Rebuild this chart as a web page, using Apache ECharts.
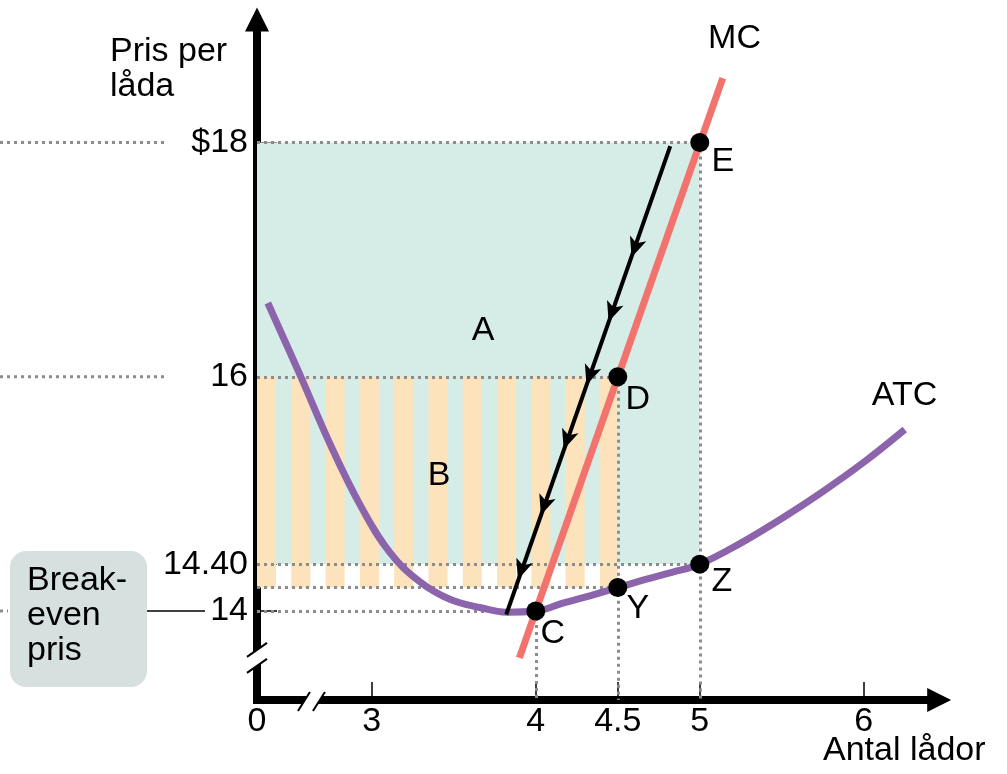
<!DOCTYPE html>
<html>
<head>
<meta charset="utf-8">
<script src="https://cdn.jsdelivr.net/npm/echarts@6/dist/echarts.min.js"></script>
<style>
  html, body { margin: 0; padding: 0; background: #fff; }
  #chart { width: 1007px; height: 774px; }
</style>
</head>
<body>
<div id="chart"></div>
<script>
// ---------- data ----------
const xTickValues = [3, 4, 4.5, 5, 6];
const xTickLabels = ['3', '4', '4.5', '5', '6'];
const xOriginLabel = '0';
const yTickValues = [14, 14.4, 16, 18];
const yTickLabels = ['14', '14.40', '16', '$18'];

// Average total cost curve (ATC)
const atcX = [2.366, 2.561, 2.744, 2.927, 3.11, 3.293, 3.476, 3.659, 3.823, 4.0, 4.17, 4.33, 4.5, 4.67, 4.83, 5.0, 5.25, 5.5, 5.75, 6.0, 6.25];
const atcY = [16.63, 16.02, 15.43, 14.91, 14.50, 14.25, 14.10, 14.03, 13.99, 14.0, 14.07, 14.13, 14.2, 14.27, 14.33, 14.4, 14.58, 14.79, 15.02, 15.27, 15.55];

// Marginal cost curve (MC)
const mcX = [3.9, 5.14];
const mcY = [13.6, 18.55];

// Black path with arrows (price falling along MC)
const pathX = [4.82, 3.82];
const pathY = [17.97, 13.97];
const arrowX = [4.584, 4.444, 4.309, 4.170, 4.031, 3.891];
const arrowY = [17.02, 16.47, 15.93, 15.38, 14.82, 14.27];

// Labelled points
const pointNames = ['C', 'D', 'E', 'Y', 'Z'];
const pointX = [4, 4.5, 5, 4.5, 5];
const pointY = [14, 16, 18, 14.2, 14.4];

// Profit areas: [price, ATC, quantity]
const profitHigh = { price: 18, atc: 14.4, q: 5 };   // area A (green)
const profitLow  = { price: 16, atc: 14.2, q: 4.5 }; // area B (striped)

// Axis ranges (broken axes start at origin label)
const xMin = 2.3, xMax = 6.46, yMin = 13.24, yMax = 19.05;
const xBreakAt = 2.632, yBreakAt = 13.6;

// ---------- style ----------
const FONT = '"Liberation Sans", Arial, Helvetica, sans-serif';
const FS = 34;
const GREEN = '#d6ece6';
const ORANGE = '#fde3bb';
const DOT = '#8c8c8c';
const labelOffsets = { C: [17, 23], D: [20, 23], E: [23, 19], Y: [20, 21], Z: [22, 17] };

const chart = echarts.init(document.getElementById('chart'), null, { renderer: 'canvas' });

function rectRender(params, api) {
  const p0 = api.coord([api.value(0), api.value(1)]);
  const p1 = api.coord([api.value(2), api.value(3)]);
  return { type: 'rect', shape: { x: p0[0], y: p0[1], width: p1[0] - p0[0], height: p1[1] - p0[1] }, style: { fill: GREEN } };
}
function stripeRender(params, api) {
  const p0 = api.coord([api.value(0), api.value(1)]);
  const p1 = api.coord([api.value(2), api.value(3)]);
  const period = 34.3, w = 19;
  const children = [];
  for (let x = p0[0]; x < p1[0]; x += period) {
    children.push({ type: 'rect', shape: { x: x, y: p0[1], width: Math.min(w, p1[0] - x), height: p1[1] - p0[1] }, style: { fill: ORANGE } });
  }
  return { type: 'group', children: children };
}

const pts = pointNames.map((n, i) => [pointX[i], pointY[i]]);
const byName = {};
pointNames.forEach((n, i) => byName[n] = pts[i]);
const dotSegs = [
  [[xMin, byName.E[1]], byName.E],
  [[xMin, byName.D[1]], byName.D],
  [[xMin, byName.Z[1]], byName.Z],
  [[xMin, byName.Y[1]], byName.Y],
  [[xMin, byName.C[1]], byName.C],
  [byName.C, [byName.C[0], yMin]],
  [byName.D, [byName.D[0], yMin]],
  [byName.E, [byName.E[0], yMin]]
];

const option = {
  animation: false,
  textStyle: { fontFamily: FONT },
  grid: { left: 257, right: 67.8, top: 19.6, bottom: 74 },
  xAxis: {
    type: 'value', min: xMin, max: xMax,
    splitLine: { show: false },
    axisLine: { onZero: false, symbol: ['none', 'triangle'], symbolSize: [24, 24], lineStyle: { color: '#000', width: 8, cap: 'square' } },
    axisTick: { show: true, inside: true, length: 18, customValues: xTickValues, lineStyle: { color: '#000', width: 1.5 } },
    axisLabel: {
      customValues: [xMin].concat(xTickValues),
      formatter: function (v) { const i = xTickValues.indexOf(v); return i >= 0 ? xTickLabels[i] : xOriginLabel; },
      fontSize: FS, color: '#000', margin: 5, verticalAlign: 'top', fontFamily: FONT
    }
  },
  yAxis: {
    type: 'value', min: yMin, max: yMax,
    splitLine: { show: false },
    axisLine: { onZero: false, symbol: ['none', 'triangle'], symbolSize: [24, 24], lineStyle: { color: '#000', width: 8, cap: 'square' } },
    axisTick: { show: true, inside: true, length: 20, customValues: yTickValues, lineStyle: { color: '#000', width: 1.5 } },
    axisLabel: {
      customValues: yTickValues,
      formatter: function (v) { const i = yTickValues.indexOf(v); return i >= 0 ? yTickLabels[i] : ''; },
      fontSize: FS, color: '#000', margin: 9, padding: [0, 0, 8, 0], fontFamily: FONT
    }
  },
  series: [
    { type: 'custom', name: 'A', renderItem: rectRender, silent: true, z: 1,
      encode: { x: [0, 2], y: [1, 3] },
      data: [[xMin, profitHigh.price, profitHigh.q, profitHigh.atc]] },
    { type: 'custom', name: 'B', renderItem: stripeRender, silent: true, z: 2,
      encode: { x: [0, 2], y: [1, 3] },
      data: [[xMin, profitLow.price, profitLow.q, profitLow.atc]] },
    { type: 'lines', coordinateSystem: 'cartesian2d', silent: true, z: 3,
      lineStyle: { color: DOT, width: 3, type: [3, 4], opacity: 1 },
      data: dotSegs.map(s => ({ coords: s })) },
    { type: 'line', name: 'ATC', smooth: 0.4, showSymbol: false, silent: true, z: 5,
      lineStyle: { color: '#8b64ab', width: 7, cap: 'butt' },
      data: atcX.map((x, i) => [x, atcY[i]]) },
    { type: 'line', name: 'MC', showSymbol: false, silent: true, z: 6,
      lineStyle: { color: '#f2736d', width: 7, cap: 'butt' },
      data: mcX.map((x, i) => [x, mcY[i]]) },
    { type: 'line', name: 'path', showSymbol: false, silent: true, z: 7,
      lineStyle: { color: '#000', width: 4, cap: 'butt' },
      data: pathX.map((x, i) => [x, pathY[i]]) },
    { type: 'scatter', name: 'arrows', symbol: 'arrow', symbolSize: [13, 20], symbolRotate: 160.6, silent: true, z: 8,
      itemStyle: { color: '#000', opacity: 1 },
      data: arrowX.map((x, i) => [x, arrowY[i]]) },
    { type: 'scatter', name: 'points', symbolSize: 19, silent: true, z: 9,
      itemStyle: { color: '#000', opacity: 1 },
      label: { show: true, formatter: '{b}', position: 'inside', color: '#000', opacity: 1, fontSize: FS, fontFamily: FONT },
      data: pointNames.map((n, i) => ({ name: n, value: [pointX[i], pointY[i]], label: { offset: labelOffsets[n] } })) }
  ]
};
chart.setOption(option);

// rotate arrows along the path in screen space
const a0 = chart.convertToPixel({ gridIndex: 0 }, [pathX[0], pathY[0]]);
const a1 = chart.convertToPixel({ gridIndex: 0 }, [pathX[1], pathY[1]]);
const ang = Math.atan2(a1[0] - a0[0], a1[1] - a0[1]) * 180 / Math.PI; // from down
const rot = 180 + ang;

const px = v => chart.convertToPixel({ xAxisIndex: 0 }, v);
const py = v => chart.convertToPixel({ yAxisIndex: 0 }, v);
const axX = px(xMin), axY = py(yMin);
const ybY = py(yBreakAt), xbX = px(xBreakAt);

function txt(text, x, y, align, valign, extra) {
  return Object.assign({ type: 'text', x: x, y: y, z: 100, silent: true,
    style: { text: text, fill: '#000', fontSize: FS, fontFamily: FONT, align: align, verticalAlign: valign, lineHeight: 35 } }, extra || {});
}
function seg(x1, y1, x2, y2, stroke, width, dash) {
  return { type: 'line', z: 100, silent: true, shape: { x1: x1, y1: y1, x2: x2, y2: y2 },
    style: { stroke: stroke, lineWidth: width, lineDash: dash || null } };
}

const graphics = [
  // dotted leaders to the left of the axis
  seg(0, py(18), 167, py(18), DOT, 3, [3, 4]),
  seg(0, py(16), 167, py(16), DOT, 3, [3, 4]),
  seg(0, py(14), 8, py(14), DOT, 3, [3, 4]),
  seg(147, py(14), 205, py(14), '#000', 1.5),
  // break-even box
  { type: 'rect', z: 99, silent: true, shape: { x: 10, y: 551, width: 137, height: 136, r: 16 }, style: { fill: '#d6e1df' } },
  txt('Break-\neven\npris', 27, 563, 'left', 'top'),
  // axis breaks
  { type: 'polygon', z: 100, silent: true, shape: { points: [[axX - 10, ybY - 1], [axX + 10, ybY - 15], [axX + 10, ybY + 1], [axX - 10, ybY + 15]] }, style: { fill: '#fff' } },
  seg(axX - 10, ybY - 1, axX + 10, ybY - 15, '#000', 2),
  seg(axX - 10, ybY + 15, axX + 10, ybY + 1, '#000', 2),
  { type: 'polygon', z: 100, silent: true, shape: { points: [[xbX - 13.5, axY + 11], [xbX - 1.5, axY - 8], [xbX + 13.5, axY - 8], [xbX + 1.5, axY + 11]] }, style: { fill: '#fff' } },
  seg(xbX - 13.5, axY + 11, xbX - 1.5, axY - 8, '#000', 2),
  seg(xbX + 1.5, axY + 11, xbX + 13.5, axY - 8, '#000', 2),
  // texts
  txt('Pris per\nlåda', 110, 34, 'left', 'top'),
  txt('Antal lådor', 823, 751, 'left', 'middle'),
  txt('MC', 734.5, 39, 'center', 'middle'),
  txt('ATC', 904.5, 395.5, 'center', 'middle'),
  txt('A', 483, 330.5, 'center', 'middle'),
  txt('B', 439, 476, 'center', 'middle')
];

chart.setOption({
  series: [{}, {}, {}, {}, {}, {}, { symbolRotate: rot }, {}],
  graphic: graphics
});
</script>
</body>
</html>
